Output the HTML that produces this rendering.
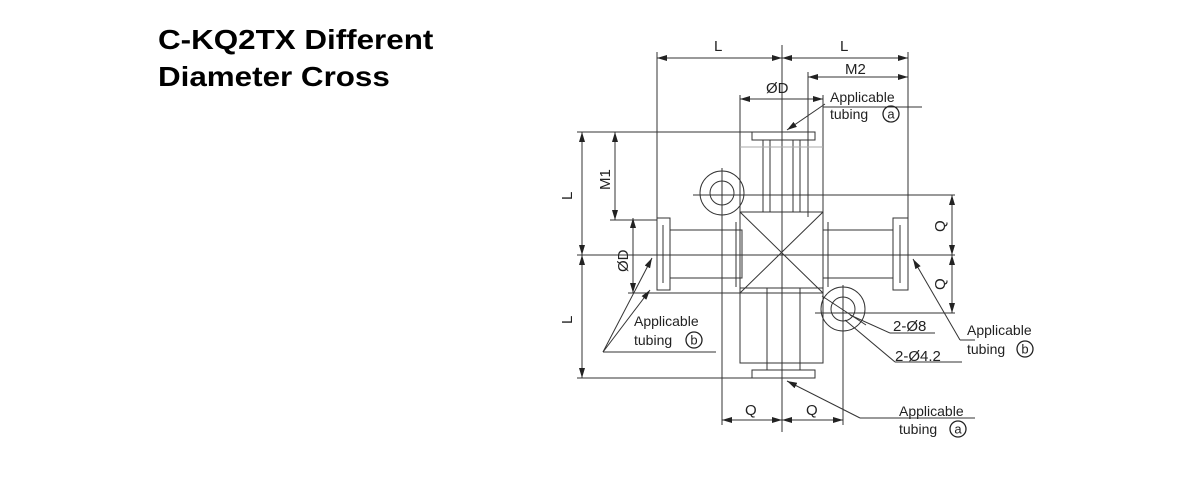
<!DOCTYPE html>
<html><head><style>
html,body{margin:0;padding:0;background:#fff;width:1200px;height:500px;overflow:hidden}
.t{position:absolute;left:158px;font:bold 28px "Liberation Sans",sans-serif;color:#000;line-height:36px;transform:scaleX(1.12);transform-origin:0 0;white-space:nowrap}
</style></head><body>
<div class="t" style="top:22px">C-KQ2TX Different</div>
<div class="t" style="top:59px">Diameter Cross</div>
<svg width="1200" height="500" style="position:absolute;left:0;top:0" font-family="Liberation Sans, sans-serif">
<defs><marker id="a" viewBox="0 0 10 6" refX="10" refY="3" markerWidth="10" markerHeight="6" orient="auto-start-reverse"><path d="M0,0L10,3L0,6z" fill="#222"/></marker></defs>
<g stroke="#333" stroke-width="1" fill="none">
<line x1="782" y1="45" x2="782" y2="432"/>
<line x1="657" y1="52" x2="657" y2="218"/>
<line x1="908" y1="52" x2="908" y2="218"/>
<line x1="808" y1="72" x2="808" y2="217"/>
<line x1="740" y1="95" x2="740" y2="217"/>
<line x1="823" y1="95" x2="823" y2="217"/>
<line x1="823" y1="107" x2="922" y2="107"/>
<line x1="577" y1="132" x2="752" y2="132"/>
<line x1="577" y1="378" x2="752" y2="378"/>
<line x1="577" y1="255" x2="955" y2="255"/>
<line x1="610" y1="220" x2="657" y2="220"/>
<line x1="628" y1="293" x2="740" y2="293"/>
<line x1="693" y1="195" x2="955" y2="195"/>
<line x1="815" y1="313" x2="955" y2="313"/>
<line x1="722" y1="168" x2="722" y2="425"/>
<line x1="843" y1="285" x2="843" y2="425"/>
<line x1="657" y1="58" x2="782" y2="58" marker-start="url(#a)" marker-end="url(#a)"/>
<line x1="782" y1="58" x2="908" y2="58" marker-start="url(#a)" marker-end="url(#a)"/>
<line x1="808" y1="77" x2="908" y2="77" marker-start="url(#a)" marker-end="url(#a)"/>
<line x1="740" y1="99" x2="823" y2="99" marker-start="url(#a)" marker-end="url(#a)"/>
<line x1="582" y1="132" x2="582" y2="255" marker-start="url(#a)" marker-end="url(#a)"/>
<line x1="582" y1="255" x2="582" y2="378" marker-start="url(#a)" marker-end="url(#a)"/>
<line x1="615" y1="132" x2="615" y2="220" marker-start="url(#a)" marker-end="url(#a)"/>
<line x1="633" y1="218" x2="633" y2="293" marker-start="url(#a)" marker-end="url(#a)"/>
<line x1="952" y1="195" x2="952" y2="255" marker-start="url(#a)" marker-end="url(#a)"/>
<line x1="952" y1="255" x2="952" y2="313" marker-start="url(#a)" marker-end="url(#a)"/>
<line x1="722" y1="420" x2="782" y2="420" marker-start="url(#a)" marker-end="url(#a)"/>
<line x1="782" y1="420" x2="843" y2="420" marker-start="url(#a)" marker-end="url(#a)"/>
<rect x="740" y="212" width="83" height="81"/>
<line x1="740" y1="212" x2="823" y2="293"/>
<line x1="823" y1="212" x2="740" y2="293"/>
<rect x="752" y="132" width="63" height="8"/>
<rect x="763" y="140" width="37" height="72"/>
<line x1="770" y1="140" x2="770" y2="212"/><line x1="793" y1="140" x2="793" y2="212"/>
<line x1="740" y1="147" x2="823" y2="147" stroke="#aaa"/>
<rect x="740" y="288" width="83" height="75"/>
<rect x="767" y="288" width="33" height="82"/>
<rect x="752" y="370" width="63" height="8"/>
<rect x="657" y="218" width="13" height="72"/>
<line x1="663" y1="225" x2="663" y2="283"/>
<rect x="670" y="230" width="72" height="48"/>
<line x1="736" y1="222" x2="736" y2="287"/>
<rect x="893" y="218" width="15" height="72"/>
<line x1="900" y1="225" x2="900" y2="283"/>
<rect x="823" y="230" width="70" height="48"/>
<line x1="828" y1="222" x2="828" y2="287"/>
<circle cx="722" cy="193" r="22"/><circle cx="722" cy="193" r="12"/>
<circle cx="843" cy="309" r="22"/><circle cx="843" cy="309" r="12"/>
<line x1="822" y1="296" x2="866" y2="325"/>
<line x1="787" y1="130" x2="825" y2="104" marker-start="url(#a)"/>
<line x1="603" y1="352" x2="652" y2="258" marker-end="url(#a)"/>
<line x1="603" y1="352" x2="650" y2="290" marker-end="url(#a)"/>
<line x1="603" y1="352" x2="716" y2="352"/>
<line x1="913" y1="259" x2="960" y2="340" marker-start="url(#a)"/>
<line x1="960" y1="340" x2="975" y2="340"/>
<line x1="787" y1="381" x2="860" y2="418" marker-start="url(#a)"/>
<line x1="860" y1="418" x2="975" y2="418"/>
<line x1="850" y1="315" x2="890" y2="333"/><line x1="890" y1="333" x2="935" y2="333"/>
<line x1="845" y1="320" x2="895" y2="362"/><line x1="895" y1="362" x2="962" y2="362"/>
<circle cx="891" cy="114" r="8" stroke="#222" stroke-width="1.3"/>
<circle cx="694" cy="340" r="8" stroke="#222" stroke-width="1.3"/>
<circle cx="1025" cy="349" r="8" stroke="#222" stroke-width="1.3"/>
<circle cx="958" cy="429" r="8" stroke="#222" stroke-width="1.3"/>
</g>
<g fill="#222" font-size="15">
<text x="714" y="51">L</text><text x="840" y="51">L</text>
<text x="845" y="74">M2</text>
<text x="766" y="93">ØD</text>
<text x="572" y="200" transform="rotate(-90 572 200)">L</text>
<text x="572" y="324" transform="rotate(-90 572 324)">L</text>
<text x="610" y="190" transform="rotate(-90 610 190)">M1</text>
<text x="628" y="272" transform="rotate(-90 628 272)">ØD</text>
<text x="945" y="232" transform="rotate(-90 945 232)">Q</text>
<text x="945" y="290" transform="rotate(-90 945 290)">Q</text>
<text x="745" y="415">Q</text><text x="806" y="415">Q</text>
<text x="893" y="331">2-Ø8</text>
<text x="895" y="361">2-Ø4.2</text>
</g>
<g fill="#222" font-size="14">
<text x="830" y="102">Applicable</text><text x="830" y="119">tubing</text>
<text x="634" y="326">Applicable</text><text x="634" y="345">tubing</text>
<text x="967" y="335">Applicable</text><text x="967" y="354">tubing</text>
<text x="899" y="416">Applicable</text><text x="899" y="434">tubing</text>
<g text-anchor="middle" font-size="13">
<text x="891" y="118.5">a</text><text x="694" y="344.5">b</text><text x="1025" y="353.5">b</text><text x="958" y="433.5">a</text>
</g>
</g>
</svg>
</body></html>
